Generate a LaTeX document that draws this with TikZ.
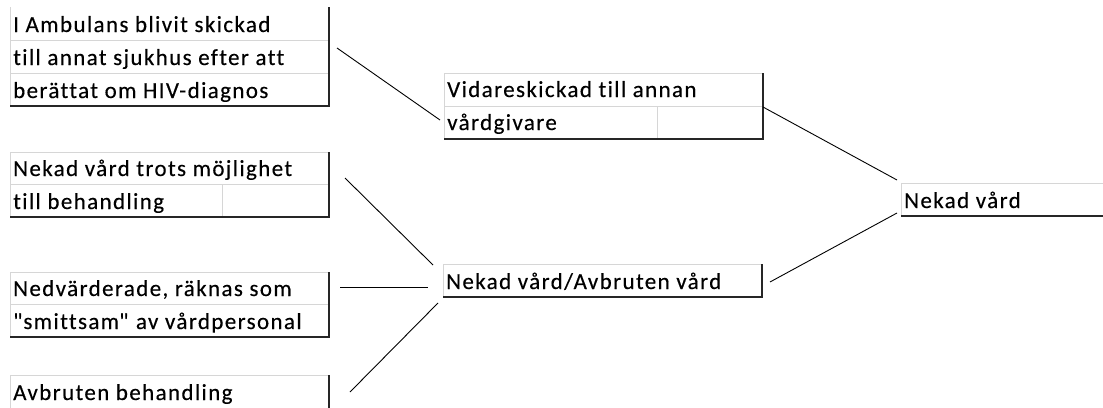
\documentclass[tikz,border=0pt]{standalone}
\usepackage{fontspec}
\defaultfontfeatures{}
\setmainfont{Carlito}[LetterSpace=6, Ligatures={NoCommon}, FakeBold=0.3]
\usetikzlibrary{calc}
% straight double quote glyph, set directly so no text mapping touches it
\newcommand\straightdq{\XeTeXglyph\XeTeXcharglyph"22\relax}

\begin{document}
\begin{tikzpicture}[x=1pt,y=-1pt,
  cellbox/.style={inner sep=0, outer sep=0, anchor=north west, draw=none},
  grid/.style={draw=black!16, line width=1pt},
  edge/.style={draw=black!85, line width=1.8pt},
  txt/.style={anchor=base west, inner sep=0, font=\fontsize{23}{27}\selectfont, text=black},
  link/.style={draw=black, line width=0.9pt}]
\useasboundingbox (0,0) rectangle (1103,407);

% --- first box: three rows
\node[cellbox, minimum width=319pt, minimum height=99pt] (b1) at (10,7) {};
\draw[grid] (b1.north west) -- (b1.south west);
\draw[grid] ($(b1.north west)+(0,33)$) -- ($(b1.north east)+(0,33)$);
\draw[grid] ($(b1.north west)+(0,66)$) -- ($(b1.north east)+(0,66)$);
\draw[edge] (b1.north east) -- (b1.south east) -- (b1.south west);
\node[txt] at ($(b1.north west)+(3,25)$) {I Ambulans blivit skickad};
\node[txt] at ($(b1.north west)+(3,58)$) {till annat sjukhus efter att};
\node[txt] at ($(b1.north west)+(3,91)$) {berättat om HIV-diagnos};

% --- forwarded to another provider
\node[cellbox, minimum width=319pt, minimum height=66pt] (b2) at (444,73) {};
\draw[grid] (b2.south west) -- (b2.north west) -- (b2.north east);
\draw[grid] ($(b2.north west)+(0,33)$) -- ($(b2.north east)+(0,33)$);
\draw[grid] ($(b2.north west)+(213,33)$) -- ($(b2.south west)+(213,0)$);
\draw[edge] (b2.north east) -- (b2.south east) -- (b2.south west);
\node[txt] at ($(b2.north west)+(3,24)$) {Vidareskickad till annan};
\node[txt] at ($(b2.north west)+(3,57)$) {vårdgivare};

% --- denied despite treatment option
\node[cellbox, minimum width=319pt, minimum height=65pt] (b3) at (10,152) {};
\draw[grid] (b3.south west) -- (b3.north west) -- (b3.north east);
\draw[grid] ($(b3.north west)+(0,32)$) -- ($(b3.north east)+(0,32)$);
\draw[grid] ($(b3.north west)+(212,32)$) -- ($(b3.south west)+(212,0)$);
\draw[edge] (b3.north east) -- (b3.south east) -- (b3.south west);
\node[txt] at ($(b3.north west)+(3,24)$) {Nekad vård trots möjlighet};
\node[txt] at ($(b3.north west)+(3,57)$) {till behandling};

% --- looked down upon
\node[cellbox, minimum width=319pt, minimum height=65pt] (b4) at (10,272) {};
\draw[grid] (b4.south west) -- (b4.north west) -- (b4.north east);
\draw[grid] ($(b4.north west)+(0,32)$) -- ($(b4.north east)+(0,32)$);
\draw[edge] (b4.north east) -- (b4.south east) -- (b4.south west);
\node[txt] at ($(b4.north west)+(3,24)$) {Nedvärderade, räknas som};
\node[txt] at ($(b4.north west)+(3,57)$) {\straightdq\kern1pt smittsam\straightdq\kern1pt\ av vårdpersonal};

% --- interrupted treatment (runs past the lower edge)
\node[cellbox, minimum width=319pt, minimum height=40pt] (b5) at (10,375) {};
\draw[grid] (b5.south west) -- (b5.north west) -- (b5.north east);
\draw[edge] (b5.north east) -- (b5.south east);
\node[txt] at ($(b5.north west)+(3,25)$) {Avbruten behandling};

% --- denied / interrupted care
\node[cellbox, minimum width=319pt, minimum height=33pt] (b6) at (443,264) {};
\draw[grid] (b6.south west) -- (b6.north west) -- (b6.north east);
\draw[edge] (b6.north east) -- (b6.south east) -- (b6.south west);
\node[txt] at ($(b6.north west)+(3,25)$) {Nekad vård/Avbruten vård};

% --- denied care (runs past the right edge)
\node[cellbox, minimum width=220pt, minimum height=33pt] (b7) at (901,183) {};
\draw[grid] (b7.south west) -- (b7.north west) -- (b7.north east);
\draw[edge] (b7.south east) -- (b7.south west);
\node[txt] at ($(b7.north west)+(3,25)$) {Nekad vård};

% --- connectors
\draw[link] ($(b1.north east)+(8,41)$) -- ($(b2.north west)+(-4,47)$);
\draw[link] ($(b2.north east)+(0,34)$) -- ($(b7.north west)+(-4,-3)$);
\draw[link] ($(b3.north east)+(16,26)$) -- ($(b6.north west)+(-10,1)$);
\draw[link] ($(b4.north east)+(11,15)$) -- ($(b6.north west)+(-15,23)$);
\draw[link] ($(b5.north east)+(21,17)$) -- ($(b6.north west)+(-5,39)$);
\draw[link] ($(b6.north east)+(8,18)$) -- ($(b7.north west)+(-4,30)$);
\end{tikzpicture}
\end{document}
